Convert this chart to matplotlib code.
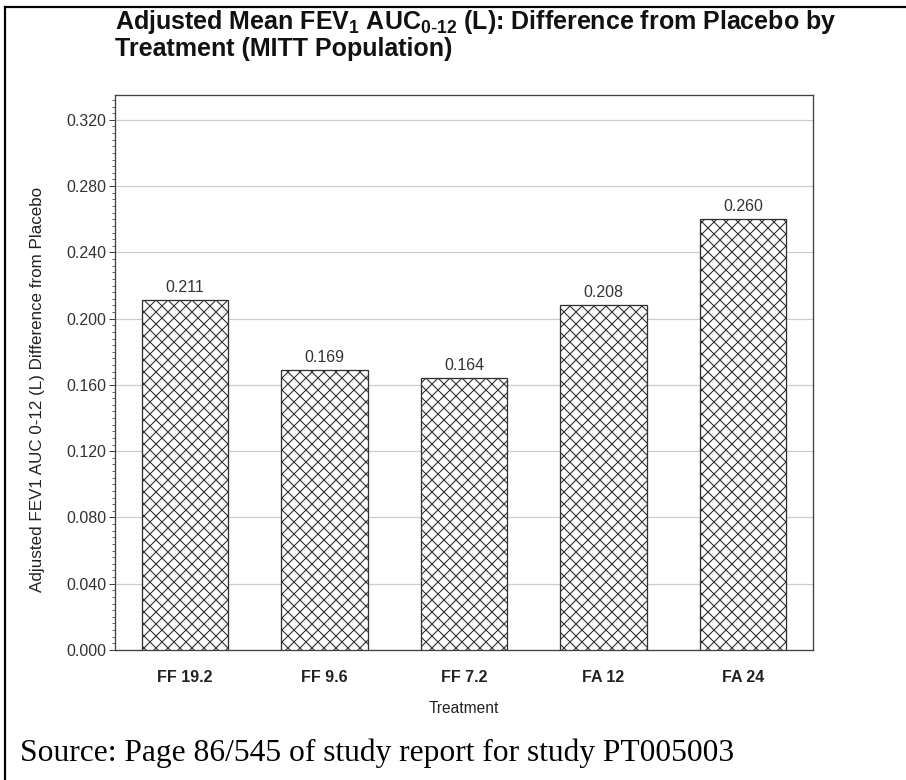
import matplotlib
matplotlib.use('Agg')
from matplotlib import pyplot as plt
from matplotlib.ticker import MultipleLocator, FormatStrFormatter
from matplotlib.lines import Line2D

# Data
treatments = ['FF 19.2', 'FF 9.6', 'FF 7.2', 'FA 12', 'FA 24']
diff_from_placebo = [0.211, 0.169, 0.164, 0.208, 0.260]
value_labels = ['0.211', '0.169', '0.164', '0.208', '0.260']

plt.rcParams['font.family'] = ['Liberation Sans', 'DejaVu Sans']
plt.rcParams['hatch.linewidth'] = 1.1
plt.rcParams['hatch.color'] = '#303030'

DPI = 72
fig = plt.figure(figsize=(906 / DPI, 780 / DPI), dpi=DPI)
ax = fig.add_axes([115 / 906, 1 - 650 / 780, (813 - 115) / 906, (650 - 95) / 780])

x = range(len(treatments))
bars = ax.bar(x, diff_from_placebo, width=0.62, color='white', edgecolor='#303030',
              linewidth=1.3, hatch='xx', zorder=3)
for rect, lab in zip(bars, value_labels):
    ax.annotate(lab, (rect.get_x() + rect.get_width() / 2, rect.get_height()),
                xytext=(0, 5), textcoords='offset points', ha='center', va='bottom',
                fontsize=16, color='#333333')

ax.set_xlim(-0.5, len(treatments) - 0.5)
ax.set_ylim(0, 0.335)
ax.yaxis.set_major_locator(MultipleLocator(0.04))
ax.yaxis.set_minor_locator(MultipleLocator(0.004))
ax.yaxis.set_major_formatter(FormatStrFormatter('%.3f'))
ax.grid(axis='y', color='#cccccc', linewidth=1.2, zorder=0)
ax.set_axisbelow(True)

ax.set_xticks(list(x))
ax.set_xticklabels(treatments, fontsize=16, fontweight='bold', color='#222222')
ax.tick_params(axis='x', length=0, pad=20)
ax.tick_params(axis='y', which='major', length=6, width=1, color='#404040',
               labelsize=16, labelcolor='#333333', pad=3)
ax.tick_params(axis='y', which='minor', length=3, width=0.8, color='#404040')
for s in ax.spines.values():
    s.set_color('#404040')
    s.set_linewidth(1.3)

ax.set_xlabel('Treatment', fontsize=15.5, color='#222222', labelpad=16)
ax.set_ylabel('Adjusted FEV1 AUC 0-12 (L) Difference from Placebo', fontsize=17,
              color='#222222')
ax.yaxis.set_label_coords(-0.101, 0.47)

# Title (two lines, left aligned with the plot)
fig.text(115 / 906, 1 - 29 / 780,
         r'Adjusted Mean FEV$_\mathregular{1}$ AUC$_\mathregular{0\text{-}12}$ (L): Difference from Placebo by',
         fontsize=25, fontweight='bold', ha='left', va='baseline', color='#111111')
fig.text(115 / 906, 1 - 56 / 780, 'Treatment (MITT Population)',
         fontsize=25, fontweight='bold', ha='left', va='baseline', color='#111111')

fig.text(20 / 906, 1 - 761 / 780, 'Source: Page 86/545 of study report for study PT005003',
         fontsize=31.5, family='Liberation Serif', ha='left', va='baseline', color='black')

# Page frame: left and top rules
fig.add_artist(Line2D([5 / 906, 5 / 906], [0, 1 - 7 / 780], transform=fig.transFigure,
                      color='black', linewidth=2.2))
fig.add_artist(Line2D([5 / 906, 1], [1 - 7 / 780, 1 - 7 / 780], transform=fig.transFigure,
                      color='black', linewidth=2.2))

fig.savefig('out.png', dpi=DPI, facecolor='white')
